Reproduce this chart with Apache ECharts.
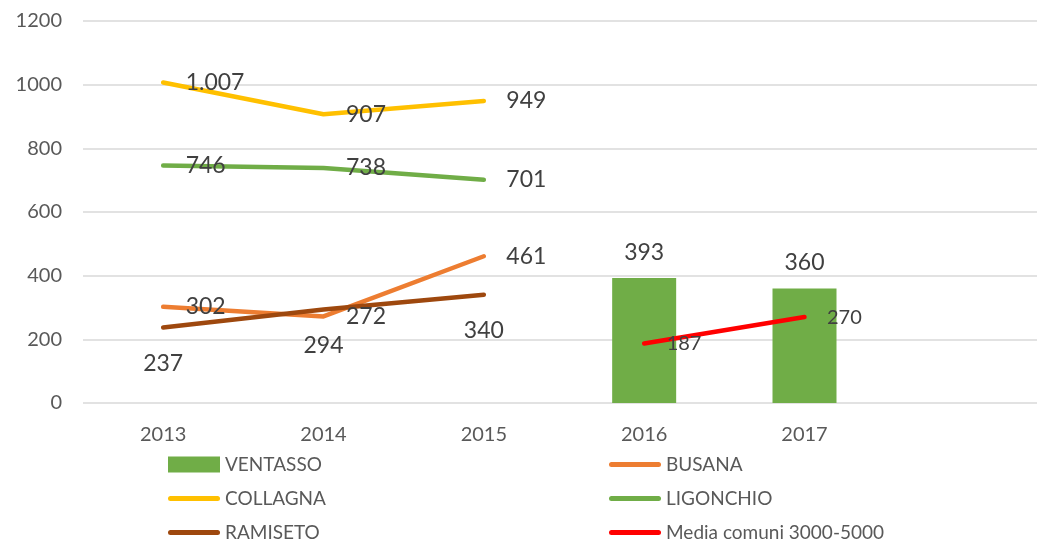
<!DOCTYPE html>
<html>
<head>
<meta charset="utf-8">
<script src="https://cdn.jsdelivr.net/npm/echarts@6/dist/echarts.min.js"></script>
<style>
  html, body { margin: 0; padding: 0; background: #fff; }
  #main { width: 1037px; height: 544px; }
</style>
</head>
<body>
<div id="main"></div>
<script>
const years = ["2013", "2014", "2015", "2016", "2017", ""];
const yTicks = { min: 0, max: 1200, step: 200 };

const ventasso = [null, null, null, 393, 360, null];
const busana = [302, 272, 461, null, null, null];
const collagna = [1007, 907, 949, null, null, null];
const ligonchio = [746, 738, 701, null, null, null];
const ramiseto = [237, 294, 340, null, null, null];
const media = [null, null, null, 187, 270, null];

const FONT = "Lato";
const TXT = "#404040";

// thousands separator like the source ("1.007")
const fmt = (p) => String(p.value).replace(/\B(?=(\d{3})+(?!\d))/g, ".");

// flat rounded bar used as legend key for the lines
const LINE_ICON = "path://M2.5,0 L49.5,0 Q52,0 52,2.5 Q52,5 49.5,5 L2.5,5 Q0,5 0,2.5 Q0,0 2.5,0 Z";

function lineSeries(name, data, color, labelPos, dist, size) {
    return {
        name: name,
        type: "line",
        data: data,
        symbol: "circle",
        symbolSize: 1,
        itemStyle: { color: color },
        lineStyle: { color: color, width: 4.5, cap: "round", join: "round" },
        label: {
            show: true,
            position: labelPos,
            distance: dist,
            color: TXT,
            fontFamily: FONT,
            fontSize: size || 23,
            formatter: fmt
        },
        connectNulls: false,
        animation: false
    };
}

function legendItem(name) {
    return { name: name, icon: LINE_ICON, symbolKeepAspect: true };
}

const chart = echarts.init(document.getElementById("main"));

const legendText = { color: "#595959", fontFamily: FONT, fontSize: 19 };
const legendBase = {
    orient: "vertical",
    top: 450,
    height: 120,
    itemWidth: 52,
    itemHeight: 16,
    itemGap: 15,
    itemStyle: { borderWidth: 0 },
    textStyle: legendText
};

chart.setOption({
    animation: false,
    grid: {
        left: 83, top: 21, width: 962, height: 382,
        containLabel: false, outerBoundsMode: "none"
    },
    legend: [
        Object.assign({}, legendBase, {
            left: 163,
            data: [{ name: "VENTASSO", icon: "rect" }, legendItem("COLLAGNA"), legendItem("RAMISETO")]
        }),
        Object.assign({}, legendBase, {
            left: 604,
            data: [legendItem("BUSANA"), legendItem("LIGONCHIO"), legendItem("Media comuni 3000-5000")]
        })
    ],
    xAxis: {
        type: "category",
        data: years,
        boundaryGap: true,
        axisLine: { show: false },
        axisTick: { show: false },
        axisLabel: { color: "#595959", fontFamily: FONT, fontSize: 20, margin: 22 }
    },
    yAxis: {
        type: "value",
        min: yTicks.min,
        max: yTicks.max,
        interval: yTicks.step,
        axisLine: { show: false },
        axisTick: { show: false },
        axisLabel: {
            color: "#595959", fontFamily: FONT, fontSize: 20, margin: 21,
            formatter: (v) => String(v)
        },
        splitLine: { lineStyle: { color: "#D9D9D9", width: 1.5 } }
    },
    series: [
        {
            name: "VENTASSO",
            type: "bar",
            data: ventasso,
            barWidth: 64,
            itemStyle: { color: "#70AD47" },
            label: {
                show: true,
                position: "top",
                distance: 14,
                color: TXT,
                fontFamily: FONT,
                fontSize: 23
            }
        },
        lineSeries("BUSANA", busana, "#ED7D31", "right", 22),
        lineSeries("COLLAGNA", collagna, "#FFC000", "right", 22),
        lineSeries("LIGONCHIO", ligonchio, "#70AD47", "right", 22),
        lineSeries("RAMISETO", ramiseto, "#9E480E", "bottom", 24),
        lineSeries("Media comuni 3000-5000", media, "#FF0000", "right", 22, 20)
    ]
});
</script>
</body>
</html>
